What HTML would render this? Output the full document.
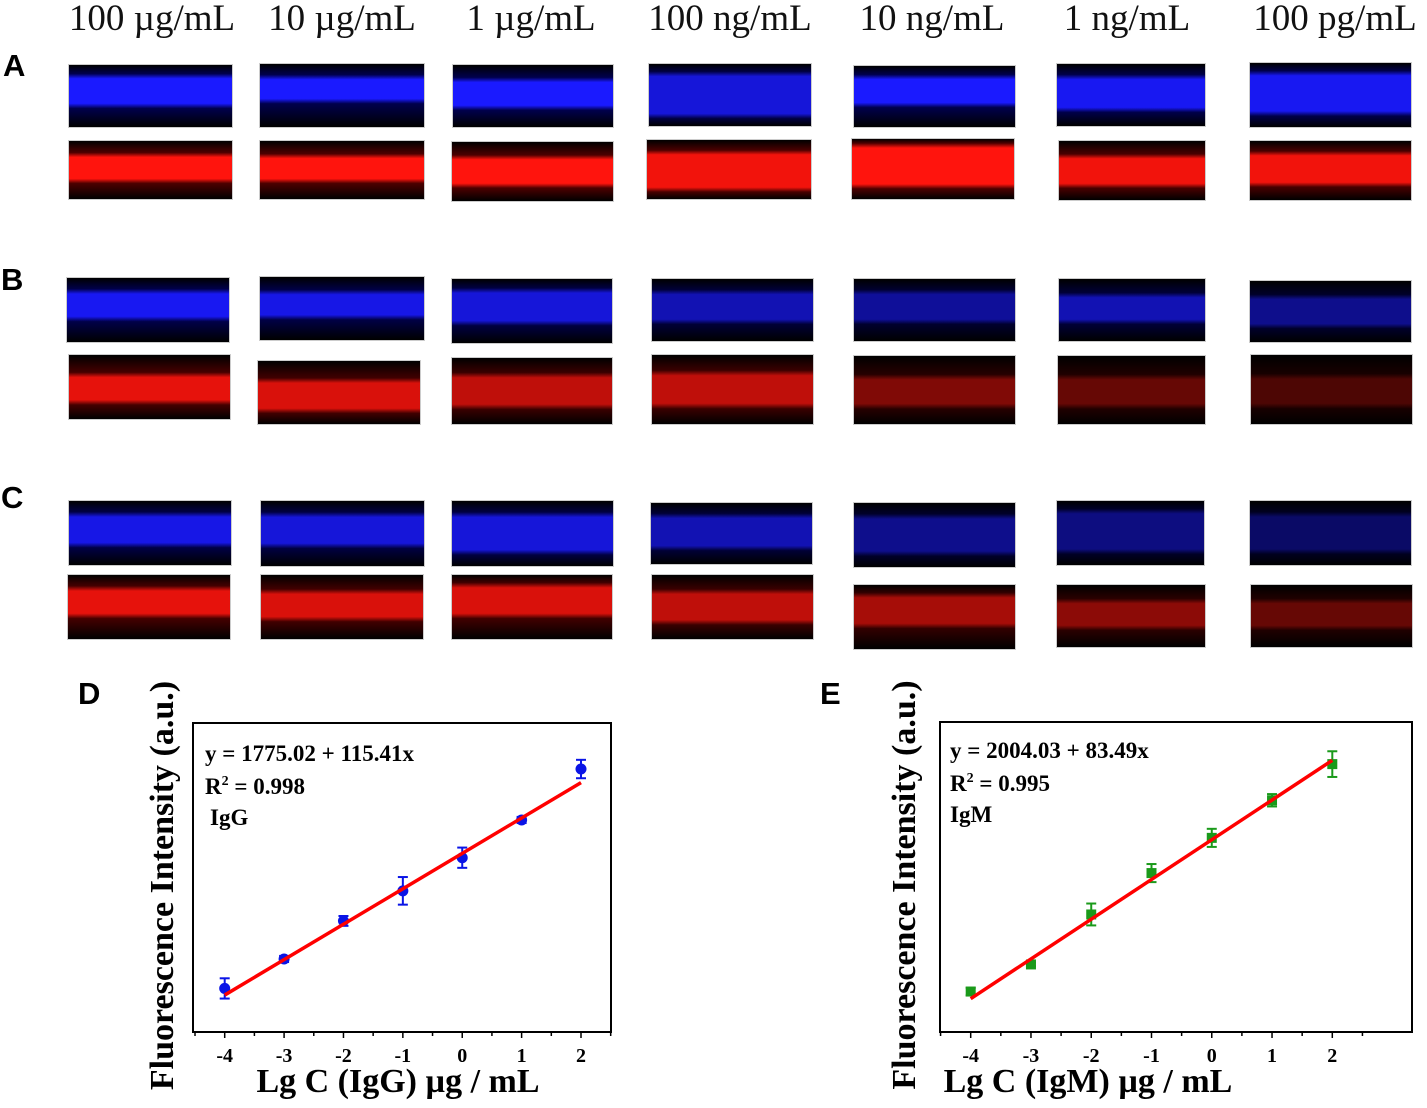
<!DOCTYPE html>
<html><head><meta charset="utf-8"><style>
html,body{margin:0;padding:0;background:#fff;}
#root{position:relative;width:1427px;height:1108px;overflow:hidden;background:#fff;font-family:"Liberation Serif",serif;}
.hdr{position:absolute;top:-3px;font-size:37px;white-space:nowrap;transform:translateX(-50%);color:#111;}
.lbl{position:absolute;font-family:"Liberation Sans",sans-serif;font-weight:bold;font-size:31px;color:#000;}
.pn{position:absolute;border:1px solid #ccc;box-sizing:border-box;}
svg text{font-family:"Liberation Serif",serif;font-weight:bold;}
</style></head><body>
<div id="root">
<div class="hdr" style="left:152px">100 µg/mL</div>
<div class="hdr" style="left:342px">10 µg/mL</div>
<div class="hdr" style="left:531px">1 µg/mL</div>
<div class="hdr" style="left:730px">100 ng/mL</div>
<div class="hdr" style="left:932px">10 ng/mL</div>
<div class="hdr" style="left:1127px">1 ng/mL</div>
<div class="hdr" style="left:1335px">100 pg/mL</div>
<div class="lbl" style="left:3px;top:48px">A</div>
<div class="lbl" style="left:1px;top:262px">B</div>
<div class="lbl" style="left:1px;top:480px">C</div>
<div class="lbl" style="left:78px;top:676px">D</div>
<div class="lbl" style="left:820px;top:676px">E</div>
<div id="imgs"></div>
<svg id="chartD" width="1427" height="1108" style="position:absolute;left:0;top:0"></svg>
<svg id="chartE" width="1427" height="1108" style="position:absolute;left:0;top:0"></svg>
</div>
<script>
// Microscopy panels: [x, y, w, h, color, brightness, bandTop%, bandBottom%]
const panels = [
 [68,64,165,64,'b',1,22,62],[259,63,166,65,'b',1,25,55],[452,64,162,64,'b',1,28,65],[648,63,164,64,'b',0.85,20,80],[853,65,163,63,'b',1,22,60],[1056,63,150,64,'b',0.95,25,70],[1249,62,163,66,'b',0.95,20,75],
 [68,140,165,60,'r',1,28,65],[259,140,166,60,'r',1,30,65],[451,141,163,61,'r',1,30,70],[646,139,166,61,'r',0.95,25,80],[851,138,164,62,'r',1,15,75],[1058,140,148,61,'r',0.95,30,72],[1249,140,163,61,'r',0.95,25,70],
 [66,277,164,66,'b',0.95,25,60],[259,276,166,65,'b',0.9,28,60],[451,278,162,66,'b',0.85,22,65],[651,278,163,64,'b',0.7,25,65],[853,278,163,64,'b',0.6,25,65],[1058,278,148,64,'b',0.7,30,65],[1249,280,163,63,'b',0.55,30,70],
 [68,354,163,66,'r',0.9,35,70],[257,360,164,65,'r',0.85,35,75],[451,357,162,68,'r',0.75,30,70],[651,354,163,71,'r',0.75,30,70],[853,355,163,70,'r',0.5,35,70],[1057,355,149,70,'r',0.4,35,70],[1250,354,163,71,'r',0.3,35,70],
 [68,500,164,66,'b',0.9,25,65],[260,500,165,67,'b',0.85,25,65],[451,500,163,67,'b',0.85,25,75],[650,502,163,63,'b',0.7,25,70],[853,502,163,66,'b',0.55,25,75],[1056,500,149,66,'b',0.5,20,75],[1249,500,163,66,'b',0.4,25,75],
 [67,574,164,66,'r',0.9,25,60],[260,574,164,66,'r',0.85,30,65],[451,574,162,66,'r',0.85,20,60],[651,574,163,66,'r',0.75,30,70],[853,584,163,66,'r',0.65,20,60],[1056,584,150,64,'r',0.55,30,65],[1250,584,163,64,'r',0.4,30,65]
];
const imgs=document.getElementById('imgs');
panels.forEach((p,i)=>{
 const d=document.createElement('div');
 d.className='pn';
 
 
 const v=Math.round(255*p[5]);
 const c=p[4]==='b'?`rgb(${Math.round(v*0.1)},${Math.round(v*0.1)},${v})`:`rgb(${v},${Math.round(v*0.08)},${Math.round(v*0.05)})`;
 const dim=p[4]==='b'?`rgb(0,0,${Math.round(v*0.3)})`:`rgb(${Math.round(v*0.3)},0,0)`;
 d.style.cssText=`left:${p[0]}px;top:${p[1]}px;width:${p[2]}px;height:${p[3]}px;background:linear-gradient(to bottom,#000 0%,${dim} ${p[6]-8}%,${c} ${p[6]}%,${c} ${p[7]}%,${dim} ${p[7]+8}%,#000 100%);`;
 imgs.appendChild(d);
});

// Chart D (IgG)
const xCatsD = [-4,-3,-2,-1,0,1,2];
const yValsD = [1335,1431,1555,1653,1761,1884,2050];
const yErrD  = [33,10,16,45,33,10,30];
const fitD = [1775.02,115.41];
const tickLabelsD = ['-4','-3','-2','-1','0','1','2'];
// Chart E (IgM)
const xCatsE = [-4,-3,-2,-1,0,1,2];
const yValsE = [1685,1742,1847,1934,2008,2087,2163];
const yErrE  = [8,4,23,19,19,13,27];
const fitE = [2004.03,83.49];
const tickLabelsE = ['-4','-3','-2','-1','0','1','2'];

const NS='http://www.w3.org/2000/svg';
function mk(svg,tag,attrs,name,text){
 const e=document.createElementNS(NS,tag);
 for(const k in attrs)e.setAttribute(k,attrs[k]);
 
 
 if(text!==undefined)e.textContent=text;
 svg.appendChild(e);return e;
}
function draw(svg,o){
 const L=o.L,R=o.R,T=o.T,B=o.B;
 const xs=v=>o.x0+(v-(-4))*(o.x1-o.x0)/6;
 const ys=v=>B-(v-o.ymin)*(B-T)/(o.ymax-o.ymin);
 mk(svg,'rect',{x:L,y:T,width:R-L,height:B-T,fill:'none',stroke:'#000','stroke-width':2},'plot-frame');
 for(let k=-9;k<=5;k++){const v=k/2;const px=xs(v);if(px<L||px>R)continue;
  mk(svg,'line',{x1:px,x2:px,y1:B,y2:B+(k%2===0?6:4),stroke:'#000','stroke-width':1.5},'x-tick');}
 o.cats.forEach((c,i)=>{mk(svg,'text',{x:xs(c),y:B+30,'font-size':20,'text-anchor':'middle'},'x-tick-label',o.labels[i]);});
 const line=mk(svg,'line',{x1:xs(o.cats[0]),y1:ys(o.fit[0]+o.fit[1]*o.cats[0]),x2:xs(o.cats[o.cats.length-1]),y2:ys(o.fit[0]+o.fit[1]*o.cats[o.cats.length-1]),stroke:'#f00','stroke-width':3.5},'fit-line');
 o.cats.forEach((c,i)=>{
  const x=xs(c),y=ys(o.vals[i]),e1=ys(o.vals[i]+o.err[i]),e2=ys(o.vals[i]-o.err[i]);
  mk(svg,'line',{x1:x,x2:x,y1:e1,y2:e2,stroke:o.col,'stroke-width':2},'error-bar');
  mk(svg,'line',{x1:x-5,x2:x+5,y1:e1,y2:e1,stroke:o.col,'stroke-width':2},'error-cap');
  mk(svg,'line',{x1:x-5,x2:x+5,y1:e2,y2:e2,stroke:o.col,'stroke-width':2},'error-cap');
  if(o.sq)mk(svg,'rect',{x:x-5,y:y-5,width:10,height:10,fill:o.col},'data-point');
  else mk(svg,'circle',{cx:x,cy:y,r:5.5,fill:o.col},'data-point');
 });
 svg.appendChild(line);
 mk(svg,'text',{x:o.ax,y:o.ay,'font-size':23},'equation-text',o.eq);
 const r=mk(svg,'text',{x:o.ax,y:o.ay+33,'font-size':23},'r-squared-text');
 r.innerHTML='R<tspan dy="-9" font-size="14">2</tspan><tspan dy="9"> = '+o.r2+'</tspan>';
 mk(svg,'text',{x:o.ax+o.ix,y:o.ay+64,'font-size':23},'series-label',o.name);
 mk(svg,'text',{x:(L+R)/2-o.xtOff,y:1092,'font-size':34,'text-anchor':'middle'},'x-axis-title',o.xt);
 mk(svg,'text',{x:0,y:0,'font-size':34,'text-anchor':'middle',transform:`translate(${o.ytx},${(T+B)/2+8}) rotate(-90)`},'y-axis-title','Fluorescence Intensity (a.u.)');
}
draw(document.getElementById('chartD'),{L:193,R:611,T:723,B:1032,x0:224.7,x1:581,ymin:1193,ymax:2200,cats:xCatsD,vals:yValsD,err:yErrD,fit:fitD,labels:tickLabelsD,col:'#0a14e6',sq:false,ax:205,ay:761,ix:5,eq:'y = 1775.02 + 115.41x',r2:'0.998',name:'IgG',xt:'Lg C (IgG) µg / mL',xtOff:4,ytx:173});
draw(document.getElementById('chartE'),{L:940,R:1412,T:722,B:1032,x0:970.7,x1:1332.3,ymin:1600,ymax:2251.5,cats:xCatsE,vals:yValsE,err:yErrE,fit:fitE,labels:tickLabelsE,col:'#1a9a1a',sq:true,ax:950,ay:758,ix:0,eq:'y = 2004.03 + 83.49x',r2:'0.995',name:'IgM',xt:'Lg C (IgM) µg / mL',xtOff:88,ytx:915});
</script>
</body></html>
